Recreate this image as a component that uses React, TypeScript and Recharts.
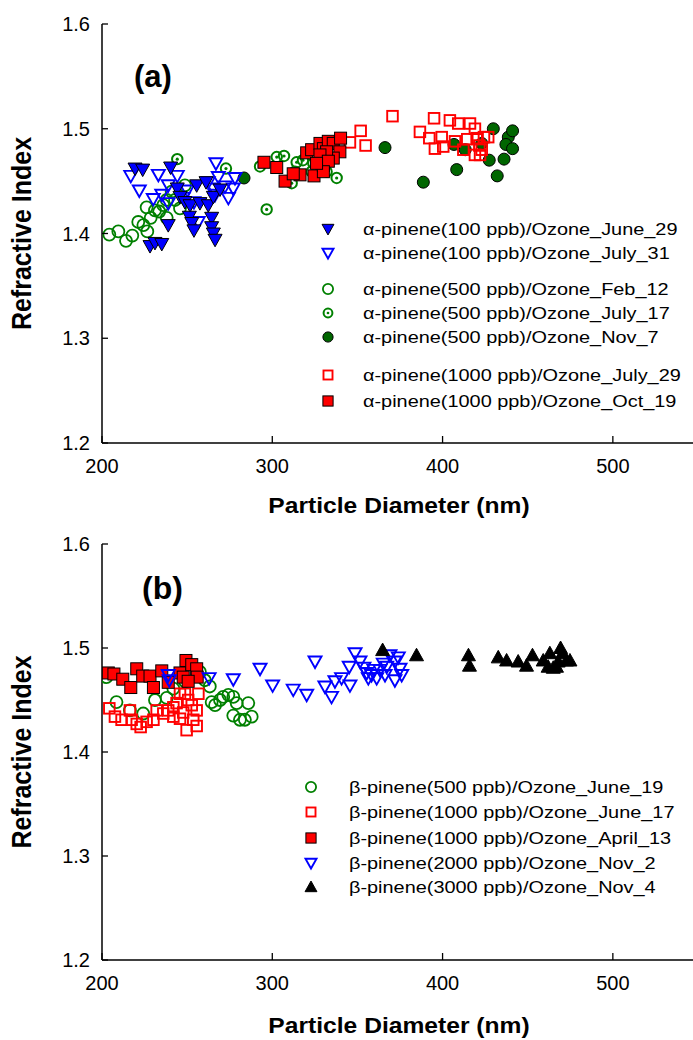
import React from 'react';
import { ScatterChart, Scatter, XAxis, YAxis, Legend } from 'recharts';

type P = [number, number];

// ---------- Panel (a): alpha-pinene ----------
const A_JUNE29: P[] = [[219.4,1.462],[223.9,1.461],[240.3,1.463],[244.2,1.443],[255.6,1.446],[261.1,1.449],[245.8,1.435],[248.7,1.430],[251.7,1.427],[257.5,1.429],[262.4,1.427],[265.4,1.435],[251.3,1.416],[252.7,1.410],[254.0,1.403],[264.4,1.415],[264.4,1.406],[265.4,1.400],[266.4,1.394],[238.9,1.408],[228.2,1.388],[231.1,1.391],[235.1,1.390],[269.3,1.442]];
const A_JULY31: P[] = [[216.9,1.455],[221.9,1.441],[233.1,1.456],[244.2,1.455],[266.9,1.467],[230.1,1.433],[235.1,1.437],[238.9,1.429],[250.1,1.441],[254.0,1.430],[262.4,1.449],[268.3,1.454],[272.2,1.445],[278.1,1.453],[277.1,1.443],[274.2,1.434],[266.4,1.437],[256.5,1.411],[238.9,1.446],[265.4,1.443],[247.7,1.434]];
const A_FEB12: P[] = [[204.3,1.399],[209.6,1.402],[214.1,1.393],[217.8,1.398],[221.3,1.411],[224.3,1.408],[226.6,1.402],[228.6,1.415],[231.1,1.422],[233.6,1.421],[236.0,1.427],[238.0,1.415],[240.9,1.440],[245.8,1.424],[248.7,1.446],[238.0,1.432],[242.9,1.432],[226.2,1.425]];
const A_JULY17: P[] = [[244.2,1.471],[272.8,1.462],[296.7,1.423],[292.8,1.464],[302.6,1.473],[306.9,1.474],[314.3,1.468],[313.3,1.459],[324.1,1.467],[337.8,1.453],[311.4,1.448],[331.9,1.459],[323.1,1.459],[318.0,1.470],[328.0,1.472]];
const A_NOV7: P[] = [[283.4,1.453],[366.2,1.482],[388.7,1.449],[408.3,1.461],[406.7,1.485],[429.8,1.500],[438.6,1.492],[441.1,1.498],[437.2,1.485],[441.1,1.481],[436.1,1.471],[427.4,1.470],[432.1,1.455],[423.0,1.486],[413.3,1.480]];
const A_JULY29: P[] = [[370.6,1.512],[351.9,1.498],[354.8,1.484],[345.6,1.487],[386.7,1.497],[395.0,1.510],[392.2,1.491],[395.5,1.481],[399.5,1.492],[400.4,1.483],[404.3,1.508],[409.2,1.505],[416.1,1.505],[419.0,1.500],[407.3,1.488],[412.2,1.480],[414.5,1.490],[420.0,1.491],[424.3,1.492],[426.8,1.492],[419.0,1.475],[422.0,1.475],[423.0,1.480],[421.6,1.484]];
const A_OCT19: P[] = [[295.1,1.468],[302.6,1.463],[307.5,1.450],[316.3,1.456],[324.5,1.455],[312.3,1.457],[320.2,1.477],[323.1,1.480],[328.0,1.486],[330.0,1.481],[332.9,1.488],[335.8,1.486],[340.1,1.491],[339.7,1.478],[335.8,1.472],[331.9,1.478],[328.0,1.475],[330.0,1.465],[332.9,1.469],[330.0,1.459],[326.0,1.467]];

// ---------- Panel (b): beta-pinene ----------
const B_JUNE19: P[] = [[202.6,1.472],[208.5,1.448],[216.4,1.440],[224.2,1.437],[231.1,1.450],[238.0,1.452],[241.9,1.461],[248.7,1.468],[257.5,1.477],[260.4,1.469],[263.3,1.463],[264.4,1.448],[266.4,1.445],[269.3,1.450],[271.2,1.453],[274.2,1.455],[277.1,1.453],[279.1,1.447],[277.1,1.435],[281.0,1.431],[283.9,1.431],[287.9,1.434],[285.9,1.447]];
const B_JUNE17: P[] = [[204.3,1.442],[207.6,1.434],[211.5,1.431],[216.4,1.440],[217.4,1.431],[220.4,1.427],[222.7,1.424],[226.2,1.429],[230.2,1.431],[232.1,1.440],[236.0,1.437],[238.9,1.440],[241.9,1.434],[243.8,1.447],[245.8,1.432],[247.7,1.438],[249.7,1.421],[250.6,1.450],[252.7,1.445],[253.6,1.431],[255.6,1.425],[256.6,1.456],[255.6,1.440],[248.7,1.456],[245.8,1.456],[241.9,1.443]];
const B_APRIL13: P[] = [[203.7,1.476],[207.0,1.475],[212.2,1.470],[216.9,1.462],[220.4,1.480],[223.9,1.473],[228.2,1.473],[230.2,1.462],[235.1,1.478],[245.8,1.476],[247.7,1.472],[249.3,1.488],[252.7,1.484],[255.6,1.480],[255.9,1.472],[250.6,1.468],[238.9,1.467]];
const B_NOV2: P[] = [[238.9,1.474],[239.5,1.469],[262.9,1.471],[277.1,1.470],[292.8,1.480],[300.2,1.464],[312.3,1.460],[320.2,1.455],[325.1,1.487],[330.9,1.463],[334.8,1.453],[336.8,1.468],[340.7,1.471],[345.6,1.464],[345.2,1.482],[348.6,1.495],[351.5,1.487],[353.8,1.481],[355.4,1.476],[356.4,1.471],[358.3,1.474],[361.3,1.471],[363.2,1.479],[365.2,1.485],[366.2,1.474],[369.1,1.493],[372.0,1.487],[374.0,1.491],[375.0,1.480],[376.0,1.474],[372.0,1.469],[359.7,1.479],[367.2,1.482]];
const B_NOV4: P[] = [[364.8,1.498],[384.7,1.493],[415.2,1.493],[415.8,1.483],[432.7,1.491],[437.6,1.488],[444.4,1.487],[449.3,1.483],[452.8,1.493],[459.1,1.488],[463.0,1.495],[462.0,1.482],[466.9,1.482],[469.3,1.500],[470.4,1.495],[472.8,1.488],[474.8,1.488],[467.9,1.487],[465.0,1.481]];

// ---------- axes ----------
const X_DOMAIN: [number, number] = [200, 550];
const X_TICKS = [200, 300, 400, 500];
const Y_DOMAIN: [number, number] = [1.2, 1.6];
const Y_TICKS = [1.2, 1.3, 1.4, 1.5, 1.6];

const A_LABELS = [
  'α-pinene(100 ppb)/Ozone_June_29',
  'α-pinene(100 ppb)/Ozone_July_31',
  'α-pinene(500 ppb)/Ozone_Feb_12',
  'α-pinene(500 ppb)/Ozone_July_17',
  'α-pinene(500 ppb)/Ozone_Nov_7',
  'α-pinene(1000 ppb)/Ozone_July_29',
  'α-pinene(1000 ppb)/Ozone_Oct_19',
];
const B_LABELS = [
  'β-pinene(500 ppb)/Ozone_June_19',
  'β-pinene(1000 ppb)/Ozone_June_17',
  'β-pinene(1000 ppb)/Ozone_April_13',
  'β-pinene(2000 ppb)/Ozone_Nov_2',
  'β-pinene(3000 ppb)/Ozone_Nov_4',
];

const FONT = '"Liberation Sans", Arial, Helvetica, sans-serif';
const BLUE = '#0000ff';
const GREEN = '#008000';
const DKGREEN = '#006600';
const RED = '#ff0000';

type Kind = 'triDownFilled' | 'triDownOpen' | 'circleOpen' | 'circleDot' | 'circleFilled' | 'squareOpen' | 'squareFilled' | 'triUpFilled';

const Marker = ({ kind, cx, cy, s = 1 }: { kind: Kind; cx: number; cy: number; s?: number }) => {
  if (cx == null || cy == null) return null;
  switch (kind) {
    case 'triDownFilled':
      return <polygon points={`${cx - 7 * s},${cy - 5.5 * s} ${cx + 7 * s},${cy - 5.5 * s} ${cx},${cy + 7 * s}`} fill={BLUE} stroke="#000" strokeWidth={1} />;
    case 'triDownOpen':
      return <polygon points={`${cx - 6.5 * s},${cy - 5 * s} ${cx + 6.5 * s},${cy - 5 * s} ${cx},${cy + 6.5 * s}`} fill="none" stroke={BLUE} strokeWidth={1.9} />;
    case 'circleOpen':
      return <circle cx={cx} cy={cy} r={6 * s} fill="none" stroke={GREEN} strokeWidth={1.8} />;
    case 'circleDot':
      return (
        <g>
          <circle cx={cx} cy={cy} r={5.2 * s} fill="none" stroke={GREEN} strokeWidth={2} />
          <circle cx={cx} cy={cy} r={1.6 * s} fill={GREEN} />
        </g>
      );
    case 'circleFilled':
      return <circle cx={cx} cy={cy} r={6 * s} fill={DKGREEN} stroke="#000" strokeWidth={1} />;
    case 'squareOpen':
      return <rect x={cx - 5.3 * s} y={cy - 5.3 * s} width={10.6 * s} height={10.6 * s} fill="none" stroke={RED} strokeWidth={1.9} />;
    case 'squareFilled':
      return <rect x={cx - 6 * s} y={cy - 6 * s} width={12 * s} height={12 * s} fill={RED} stroke="#000" strokeWidth={1} />;
    case 'triUpFilled':
      return <polygon points={`${cx - 7 * s},${cy + 5.5 * s} ${cx + 7 * s},${cy + 5.5 * s} ${cx},${cy - 7 * s}`} fill="#000" stroke="#000" strokeWidth={1} />;
  }
  return null;
};

const shapeOf = (kind: Kind) => (p: any) => <Marker kind={kind} cx={p.cx} cy={p.cy} />;
const toPts = (arr: P[]) => arr.map(([x, y]) => ({ x, y }));

const YTick = (props: any) => {
  const { x, y, payload } = props;
  return (
    <g>
      <line x1={x} x2={x + 6} y1={y} y2={y} stroke="#000" strokeWidth={1.3} />
      <text x={x - 12} y={y + 7} textAnchor="end" fontSize={20} fontFamily={FONT} fill="#000">
        {Number(payload.value).toFixed(1)}
      </text>
    </g>
  );
};

const XTick = (props: any) => {
  const { x, y, payload } = props;
  return (
    <g>
      <line x1={x} x2={x} y1={y} y2={y - 7} stroke="#000" strokeWidth={1.3} />
      <text x={x} y={y + 30} textAnchor="middle" fontSize={20} fontFamily={FONT} fill="#000">
        {payload.value}
      </text>
    </g>
  );
};

const XTitle = (props: any) => {
  const vb = props.viewBox || {};
  const cx = vb.x + vb.width / 2 - 1;
  const y = vb.y + props.dyBase;
  return (
    <text transform={`translate(${cx},${y}) scale(1.12,1)`} textAnchor="middle" fontSize={22} fontWeight="bold" fontFamily={FONT} fill="#000">
      Particle Diameter (nm)
    </text>
  );
};

const YTitle = (props: any) => {
  const vb = props.viewBox || {};
  const cy = vb.y + vb.height / 2;
  return (
    <text transform={`translate(${22},${cy}) scale(1.12,1) rotate(-90)`} textAnchor="middle" dominantBaseline="central" fontSize={25} fontWeight="bold" fontFamily={FONT} fill="#000">
      Refractive Index
    </text>
  );
};

const makeLegend = (labels: string[], kinds: Kind[], rows: number[], markerX: number, textX: number, w: number, h: number) => () => (
  <svg width={w} height={h} style={{ overflow: 'visible' }}>
    {labels.map((lab, i) => (
      <g key={lab}>
        <Marker kind={kinds[i]} cx={markerX} cy={rows[i]} s={0.85} />
        <text transform={`translate(${textX},${rows[i]}) scale(1.17,1)`} dominantBaseline="central" fontSize={17} fontFamily={FONT} fill="#000">
          {lab}
        </text>
      </g>
    ))}
  </svg>
);

const A_KINDS: Kind[] = ['triDownFilled', 'triDownOpen', 'circleOpen', 'circleDot', 'circleFilled', 'squareOpen', 'squareFilled'];
const B_KINDS: Kind[] = ['circleOpen', 'squareOpen', 'squareFilled', 'triDownOpen', 'triUpFilled'];

const Panel = ({ children, xAxisHeight, legend, legendPos }: any) => (
  <ScatterChart width={700} height={520} margin={{ top: 24, right: 2, left: 0, bottom: 0 }}>
    <XAxis
      xAxisId={0}
      type="number"
      dataKey="x"
      domain={X_DOMAIN}
      ticks={X_TICKS}
      interval={0}
      allowDataOverflow
      height={xAxisHeight}
      tickSize={0}
      tickMargin={0}
      tickLine={false}
      tick={<XTick />}
      axisLine={{ stroke: '#000', strokeWidth: 1.5 }}
      label={<XTitle dyBase={xAxisHeight === 77 ? 70 : 73} />}
    />
    <XAxis
      xAxisId="top"
      orientation="top"
      type="number"
      dataKey="x"
      domain={X_DOMAIN}
      allowDataOverflow
      height={0}
      tick={false}
      tickLine={false}
      axisLine={{ stroke: '#000', strokeWidth: 1.5 }}
    />
    <YAxis
      type="number"
      dataKey="y"
      domain={Y_DOMAIN}
      ticks={Y_TICKS}
      interval={0}
      allowDataOverflow
      width={102}
      tickSize={0}
      tickMargin={0}
      tickLine={false}
      tick={<YTick />}
      axisLine={{ stroke: '#000', strokeWidth: 1.5 }}
      label={<YTitle />}
    />
    {children}
    <Legend
      layout="vertical"
      align="center"
      verticalAlign="middle"
      content={legend}
      wrapperStyle={{ position: 'absolute', left: legendPos[0], top: legendPos[1], width: 393, height: 220 }}
    />
  </ScatterChart>
);

export default function App() {
  return (
    <div style={{ position: 'absolute', left: 0, top: 0, width: 693, height: 1040, overflow: 'hidden', background: '#fff' }}>
      <div style={{ position: 'absolute', left: 0, top: 0 }}>
        <Panel
          xAxisHeight={77}
          legendPos={[300, 210]}
          legend={makeLegend(A_LABELS, A_KINDS, [19, 43, 79, 103, 127, 165, 191], 28, 63, 393, 220)}
        >
          <Scatter name={A_LABELS[2]} data={toPts(A_FEB12)} shape={shapeOf('circleOpen')} isAnimationActive={false} />
          <Scatter name={A_LABELS[3]} data={toPts(A_JULY17)} shape={shapeOf('circleDot')} isAnimationActive={false} />
          <Scatter name={A_LABELS[4]} data={toPts(A_NOV7)} shape={shapeOf('circleFilled')} isAnimationActive={false} />
          <Scatter name={A_LABELS[1]} data={toPts(A_JULY31)} shape={shapeOf('triDownOpen')} isAnimationActive={false} />
          <Scatter name={A_LABELS[0]} data={toPts(A_JUNE29)} shape={shapeOf('triDownFilled')} isAnimationActive={false} />
          <Scatter name={A_LABELS[5]} data={toPts(A_JULY29)} shape={shapeOf('squareOpen')} isAnimationActive={false} />
          <Scatter name={A_LABELS[6]} data={toPts(A_OCT19)} shape={shapeOf('squareFilled')} isAnimationActive={false} />
        </Panel>
        <div style={{ position: 'absolute', left: 134, top: 62, fontFamily: FONT, fontWeight: 'bold', fontSize: 31, lineHeight: '30px' }}>(a)</div>
      </div>
      <div style={{ position: 'absolute', left: 0, top: 520 }}>
        <Panel
          xAxisHeight={80}
          legendPos={[290, 250]}
          legend={makeLegend(B_LABELS, B_KINDS, [17, 42, 68, 93, 117], 21, 59, 393, 220)}
        >
          <Scatter name={B_LABELS[0]} data={toPts(B_JUNE19)} shape={shapeOf('circleOpen')} isAnimationActive={false} />
          <Scatter name={B_LABELS[1]} data={toPts(B_JUNE17)} shape={shapeOf('squareOpen')} isAnimationActive={false} />
          <Scatter name={B_LABELS[2]} data={toPts(B_APRIL13)} shape={shapeOf('squareFilled')} isAnimationActive={false} />
          <Scatter name={B_LABELS[3]} data={toPts(B_NOV2)} shape={shapeOf('triDownOpen')} isAnimationActive={false} />
          <Scatter name={B_LABELS[4]} data={toPts(B_NOV4)} shape={shapeOf('triUpFilled')} isAnimationActive={false} />
        </Panel>
        <div style={{ position: 'absolute', left: 142, top: 53, fontFamily: FONT, fontWeight: 'bold', fontSize: 32, lineHeight: '30px' }}>(b)</div>
      </div>
    </div>
  );
}
